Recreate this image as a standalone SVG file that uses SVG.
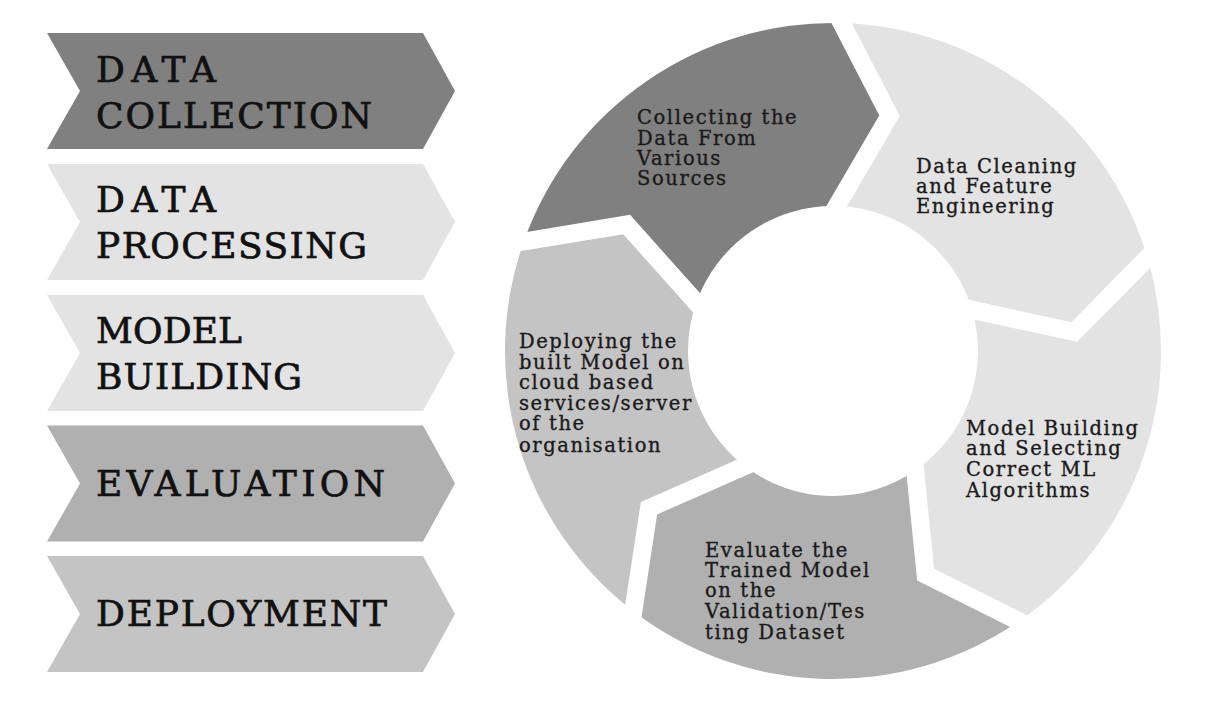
<svg xmlns="http://www.w3.org/2000/svg" xmlns:xlink="http://www.w3.org/1999/xlink" width="1218" height="718" viewBox="0 0 1218 718">
<style>
.g1{fill:#808080}.g2{fill:#e3e3e3}.g3{fill:#e3e3e3}.g4{fill:#b0b0b0}.g5{fill:#c4c4c4}
.big{font-family:"DejaVu Serif","Liberation Serif",serif;font-size:36px;fill:#111;stroke:#111;stroke-width:0.7}
.sm{font-family:"DejaVu Serif","Liberation Serif",serif;font-size:19.5px;letter-spacing:1.6px;fill:#1a1a1a;stroke:#1a1a1a;stroke-width:0.35}
.gap{fill:none;stroke:#000;stroke-width:18;stroke-linejoin:miter;stroke-linecap:square}
</style>
<defs>
<path id="chev" d="M47,0 H423 L455,58 L423,116 H47 L80,58 Z"/>
<mask id="gaps" maskUnits="userSpaceOnUse" x="0" y="0" width="1218" height="718">
<rect x="0" y="0" width="1218" height="718" fill="#fff"/>
<polyline class="gap" points="841.59,23.11 889.49,115.69 836.80,206.05"/>
<polyline class="gap" points="1147.49,257.84 1074.25,332.01 972.03,309.82"/>
<polyline class="gap" points="1018.78,621.31 925.61,574.58 915.13,470.50"/>
<polyline class="gap" points="633.33,611.22 648.98,508.17 744.73,466.04"/>
<polyline class="gap" points="523.81,241.51 626.66,224.55 696.32,302.60"/>
</mask>
</defs>
<rect width="1218" height="718" fill="#fff"/>

<g id="stage-collection">
<use xlink:href="#chev" y="33" class="g1"/>
<text class="big" x="96" y="82" textLength="120" lengthAdjust="spacing">DATA</text>
<text class="big" x="96" y="128" textLength="276" lengthAdjust="spacing">COLLECTION</text>
</g>
<g id="stage-processing">
<use xlink:href="#chev" y="164" class="g2"/>
<text class="big" x="96" y="212" textLength="120" lengthAdjust="spacing">DATA</text>
<text class="big" x="96" y="258" textLength="271" lengthAdjust="spacing">PROCESSING</text>
</g>
<g id="stage-model">
<use xlink:href="#chev" y="295" class="g3"/>
<text class="big" x="96" y="343" textLength="146" lengthAdjust="spacing">MODEL</text>
<text class="big" x="96" y="389" textLength="206" lengthAdjust="spacing">BUILDING</text>
</g>
<g id="stage-evaluation">
<use xlink:href="#chev" y="425.5" class="g4"/>
<text class="big" x="96" y="496" textLength="289" lengthAdjust="spacing">EVALUATION</text>
</g>
<g id="stage-deployment">
<use xlink:href="#chev" y="556" class="g5"/>
<text class="big" x="96" y="626" textLength="291" lengthAdjust="spacing">DEPLOYMENT</text>
</g>

<g id="connectors"></g>

<g id="ring-collecting">
<path class="g1" mask="url(#gaps)" d="M523.81,241.51 A328,328 0 0 1 841.59,23.11 L889.49,115.69 L836.80,206.05 A145,145 0 0 0 696.32,302.60 L626.66,224.55 Z"/>
<text class="sm"><tspan x="637" y="124">Collecting the</tspan><tspan x="637" y="144.5">Data From</tspan><tspan x="637" y="165">Various</tspan><tspan x="637" y="185">Sources</tspan></text>
</g>
<g id="ring-cleaning">
<path class="g2" mask="url(#gaps)" d="M841.59,23.11 A328,328 0 0 1 1147.49,257.84 L1074.25,332.01 L972.03,309.82 A145,145 0 0 0 836.80,206.05 L889.49,115.69 Z"/>
<text class="sm"><tspan x="916" y="173">Data Cleaning</tspan><tspan x="916" y="193">and Feature</tspan><tspan x="916" y="213">Engineering</tspan></text>
</g>
<g id="ring-building">
<path class="g3" mask="url(#gaps)" d="M1147.49,257.84 A328,328 0 0 1 1018.78,621.31 L925.61,574.58 L915.13,470.50 A145,145 0 0 0 972.03,309.82 L1074.25,332.01 Z"/>
<text class="sm"><tspan x="966" y="435">Model Building</tspan><tspan x="966" y="455">and Selecting</tspan><tspan x="966" y="476">Correct ML</tspan><tspan x="966" y="497">Algorithms</tspan></text>
</g>
<g id="ring-evaluate">
<path class="g4" mask="url(#gaps)" d="M1018.78,621.31 A328,328 0 0 1 633.33,611.22 L648.98,508.17 L744.73,466.04 A145,145 0 0 0 915.13,470.50 L925.61,574.58 Z"/>
<text class="sm"><tspan x="705" y="557">Evaluate the</tspan><tspan x="705" y="577">Trained Model</tspan><tspan x="705" y="597">on the</tspan><tspan x="705" y="618">Validation/Tes</tspan><tspan x="705" y="639">ting Dataset</tspan></text>
</g>
<g id="ring-deploying">
<path class="g5" mask="url(#gaps)" d="M633.33,611.22 A328,328 0 0 1 523.81,241.51 L626.66,224.55 L696.32,302.60 A145,145 0 0 0 744.73,466.04 L648.98,508.17 Z"/>
<text class="sm"><tspan x="519" y="348">Deploying the</tspan><tspan x="519" y="369">built Model on</tspan><tspan x="519" y="389">cloud based</tspan><tspan x="519" y="410">services/server</tspan><tspan x="519" y="430">of the</tspan><tspan x="519" y="452">organisation</tspan></text>
</g>
</svg>
